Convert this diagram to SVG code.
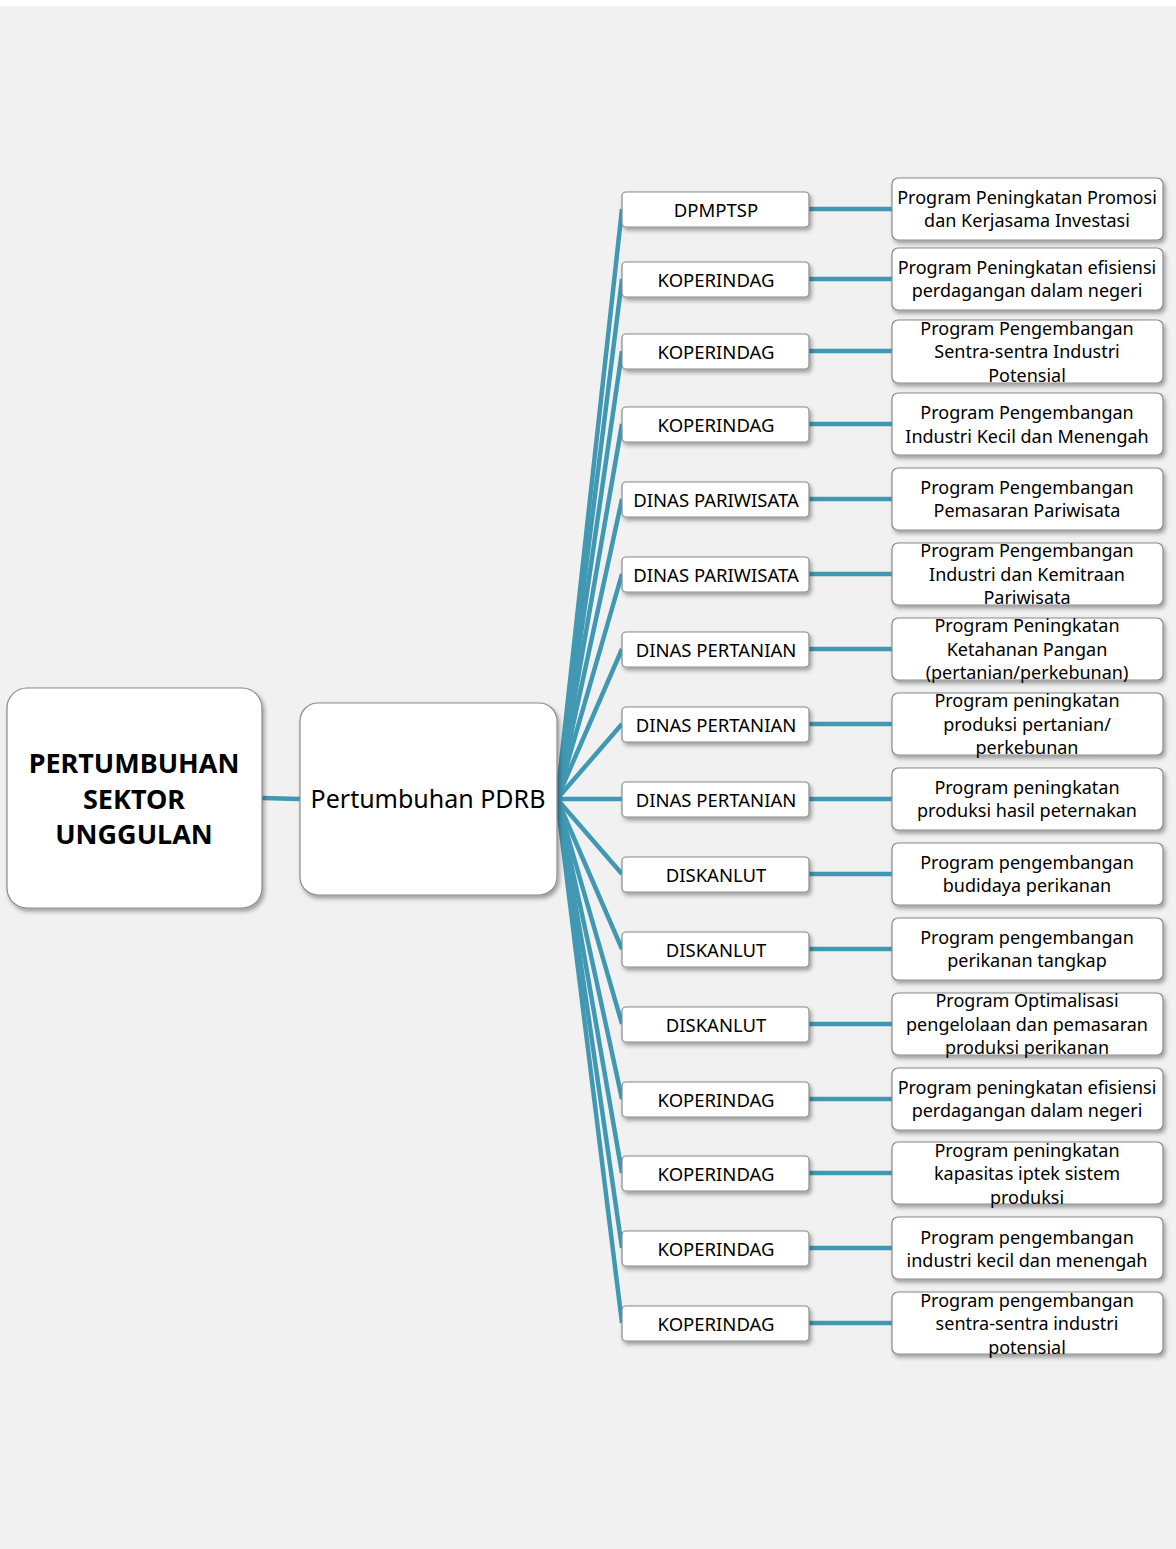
<svg xmlns="http://www.w3.org/2000/svg" width="1176" height="1549" viewBox="0 0 1176 1549">
<defs>
<filter id="sh" x="-10%" y="-20%" width="130%" height="150%">
<feDropShadow dx="2" dy="3" stdDeviation="2" flood-color="#000" flood-opacity="0.35"/>
</filter>
<style>
.box{fill:#fff;stroke:#8a8a8a;stroke-width:1.2;filter:url(#sh)}
.t{font-family:"Noto Sans","Open Sans","DejaVu Sans",sans-serif;fill:#000;text-anchor:middle;dominant-baseline:central}
.s{font-size:18px}
.m{font-size:18.5px}
.c{stroke:#4198b3;stroke-width:4.5;fill:none}
</style>
</defs>
<rect x="0" y="0" width="1176" height="1549" fill="#ffffff"/>
<rect x="0" y="6" width="1176" height="1543" fill="#f1f1f1"/>
<g id="connectors">
<line class="c" x1="262" y1="798" x2="300" y2="799"/>
<line class="c" x1="557" y1="799" x2="622" y2="209"/>
<line class="c" x1="557" y1="799" x2="622" y2="279"/>
<line class="c" x1="557" y1="799" x2="622" y2="351"/>
<line class="c" x1="557" y1="799" x2="622" y2="424"/>
<line class="c" x1="557" y1="799" x2="622" y2="499"/>
<line class="c" x1="557" y1="799" x2="622" y2="574"/>
<line class="c" x1="557" y1="799" x2="622" y2="649"/>
<line class="c" x1="557" y1="799" x2="622" y2="724"/>
<line class="c" x1="557" y1="799" x2="622" y2="799"/>
<line class="c" x1="557" y1="799" x2="622" y2="874"/>
<line class="c" x1="557" y1="799" x2="622" y2="949"/>
<line class="c" x1="557" y1="799" x2="622" y2="1024"/>
<line class="c" x1="557" y1="799" x2="622" y2="1099"/>
<line class="c" x1="557" y1="799" x2="622" y2="1173"/>
<line class="c" x1="557" y1="799" x2="622" y2="1248"/>
<line class="c" x1="557" y1="799" x2="622" y2="1323"/>
<line class="c" x1="809" y1="209" x2="892" y2="209"/>
<line class="c" x1="809" y1="279" x2="892" y2="279"/>
<line class="c" x1="809" y1="351" x2="892" y2="351"/>
<line class="c" x1="809" y1="424" x2="892" y2="424"/>
<line class="c" x1="809" y1="499" x2="892" y2="499"/>
<line class="c" x1="809" y1="574" x2="892" y2="574"/>
<line class="c" x1="809" y1="649" x2="892" y2="649"/>
<line class="c" x1="809" y1="724" x2="892" y2="724"/>
<line class="c" x1="809" y1="799" x2="892" y2="799"/>
<line class="c" x1="809" y1="874" x2="892" y2="874"/>
<line class="c" x1="809" y1="949" x2="892" y2="949"/>
<line class="c" x1="809" y1="1024" x2="892" y2="1024"/>
<line class="c" x1="809" y1="1099" x2="892" y2="1099"/>
<line class="c" x1="809" y1="1173" x2="892" y2="1173"/>
<line class="c" x1="809" y1="1248" x2="892" y2="1248"/>
<line class="c" x1="809" y1="1323" x2="892" y2="1323"/>
</g>
<g id="root">
<rect class="box" x="7" y="688" width="255" height="220" rx="20"/>
<text class="t" x="134" font-size="27" font-weight="bold"><tspan x="134" y="762">PERTUMBUHAN</tspan><tspan x="134" y="798">SEKTOR</tspan><tspan x="134" y="833">UNGGULAN</tspan></text>
</g>
<g id="pdrb">
<rect class="box" x="300" y="703" width="257" height="192" rx="18"/>
<text class="t" x="428" y="798" font-size="25">Pertumbuhan PDRB</text>
</g>
<g id="m1"><rect class="box" x="622" y="192" width="187" height="35" rx="4"/><text class="t m" x="716" y="209">DPMPTSP</text></g>
<g id="m2"><rect class="box" x="622" y="262" width="187" height="35" rx="4"/><text class="t m" x="716" y="279">KOPERINDAG</text></g>
<g id="m3"><rect class="box" x="622" y="334" width="187" height="35" rx="4"/><text class="t m" x="716" y="351">KOPERINDAG</text></g>
<g id="m4"><rect class="box" x="622" y="407" width="187" height="35" rx="4"/><text class="t m" x="716" y="424">KOPERINDAG</text></g>
<g id="m5"><rect class="box" x="622" y="482" width="187" height="35" rx="4"/><text class="t m" x="716" y="499">DINAS PARIWISATA</text></g>
<g id="m6"><rect class="box" x="622" y="557" width="187" height="35" rx="4"/><text class="t m" x="716" y="574">DINAS PARIWISATA</text></g>
<g id="m7"><rect class="box" x="622" y="632" width="187" height="35" rx="4"/><text class="t m" x="716" y="649">DINAS PERTANIAN</text></g>
<g id="m8"><rect class="box" x="622" y="707" width="187" height="35" rx="4"/><text class="t m" x="716" y="724">DINAS PERTANIAN</text></g>
<g id="m9"><rect class="box" x="622" y="782" width="187" height="35" rx="4"/><text class="t m" x="716" y="799">DINAS PERTANIAN</text></g>
<g id="m10"><rect class="box" x="622" y="857" width="187" height="35" rx="4"/><text class="t m" x="716" y="874">DISKANLUT</text></g>
<g id="m11"><rect class="box" x="622" y="932" width="187" height="35" rx="4"/><text class="t m" x="716" y="949">DISKANLUT</text></g>
<g id="m12"><rect class="box" x="622" y="1007" width="187" height="35" rx="4"/><text class="t m" x="716" y="1024">DISKANLUT</text></g>
<g id="m13"><rect class="box" x="622" y="1082" width="187" height="35" rx="4"/><text class="t m" x="716" y="1099">KOPERINDAG</text></g>
<g id="m14"><rect class="box" x="622" y="1156" width="187" height="35" rx="4"/><text class="t m" x="716" y="1173">KOPERINDAG</text></g>
<g id="m15"><rect class="box" x="622" y="1231" width="187" height="35" rx="4"/><text class="t m" x="716" y="1248">KOPERINDAG</text></g>
<g id="m16"><rect class="box" x="622" y="1306" width="187" height="35" rx="4"/><text class="t m" x="716" y="1323">KOPERINDAG</text></g>
<g id="r1"><rect class="box" x="892" y="178" width="271" height="62" rx="6"/><text class="t s"><tspan x="1027" y="197">Program Peningkatan Promosi</tspan><tspan x="1027" y="220">dan Kerjasama Investasi</tspan></text></g>
<g id="r2"><rect class="box" x="892" y="248" width="271" height="62" rx="6"/><text class="t s"><tspan x="1027" y="267">Program Peningkatan efisiensi</tspan><tspan x="1027" y="290">perdagangan dalam negeri</tspan></text></g>
<g id="r3"><rect class="box" x="892" y="320" width="271" height="63" rx="6"/><text class="t s"><tspan x="1027" y="328">Program Pengembangan</tspan><tspan x="1027" y="351">Sentra-sentra Industri</tspan><tspan x="1027" y="375">Potensial</tspan></text></g>
<g id="r4"><rect class="box" x="892" y="393" width="271" height="62" rx="6"/><text class="t s"><tspan x="1027" y="412">Program Pengembangan</tspan><tspan x="1027" y="436">Industri Kecil dan Menengah</tspan></text></g>
<g id="r5"><rect class="box" x="892" y="468" width="271" height="62" rx="6"/><text class="t s"><tspan x="1027" y="487">Program Pengembangan</tspan><tspan x="1027" y="510">Pemasaran Pariwisata</tspan></text></g>
<g id="r6"><rect class="box" x="892" y="543" width="271" height="62" rx="6"/><text class="t s"><tspan x="1027" y="550">Program Pengembangan</tspan><tspan x="1027" y="574">Industri dan Kemitraan</tspan><tspan x="1027" y="597">Pariwisata</tspan></text></g>
<g id="r7"><rect class="box" x="892" y="618" width="271" height="62" rx="6"/><text class="t s"><tspan x="1027" y="625">Program Peningkatan</tspan><tspan x="1027" y="649">Ketahanan Pangan</tspan><tspan x="1027" y="672">(pertanian/perkebunan)</tspan></text></g>
<g id="r8"><rect class="box" x="892" y="693" width="271" height="62" rx="6"/><text class="t s"><tspan x="1027" y="700">Program peningkatan</tspan><tspan x="1027" y="724">produksi pertanian/</tspan><tspan x="1027" y="747">perkebunan</tspan></text></g>
<g id="r9"><rect class="box" x="892" y="768" width="271" height="62" rx="6"/><text class="t s"><tspan x="1027" y="787">Program peningkatan</tspan><tspan x="1027" y="810">produksi hasil peternakan</tspan></text></g>
<g id="r10"><rect class="box" x="892" y="843" width="271" height="62" rx="6"/><text class="t s"><tspan x="1027" y="862">Program pengembangan</tspan><tspan x="1027" y="885">budidaya perikanan</tspan></text></g>
<g id="r11"><rect class="box" x="892" y="918" width="271" height="62" rx="6"/><text class="t s"><tspan x="1027" y="937">Program pengembangan</tspan><tspan x="1027" y="960">perikanan tangkap</tspan></text></g>
<g id="r12"><rect class="box" x="892" y="993" width="271" height="62" rx="6"/><text class="t s"><tspan x="1027" y="1000">Program Optimalisasi</tspan><tspan x="1027" y="1024">pengelolaan dan pemasaran</tspan><tspan x="1027" y="1047">produksi perikanan</tspan></text></g>
<g id="r13"><rect class="box" x="892" y="1068" width="271" height="62" rx="6"/><text class="t s"><tspan x="1027" y="1087">Program peningkatan efisiensi</tspan><tspan x="1027" y="1110">perdagangan dalam negeri</tspan></text></g>
<g id="r14"><rect class="box" x="892" y="1142" width="271" height="62" rx="6"/><text class="t s"><tspan x="1027" y="1150">Program peningkatan</tspan><tspan x="1027" y="1173">kapasitas iptek sistem</tspan><tspan x="1027" y="1197">produksi</tspan></text></g>
<g id="r15"><rect class="box" x="892" y="1217" width="271" height="62" rx="6"/><text class="t s"><tspan x="1027" y="1237">Program pengembangan</tspan><tspan x="1027" y="1260">industri kecil dan menengah</tspan></text></g>
<g id="r16"><rect class="box" x="892" y="1292" width="271" height="62" rx="6"/><text class="t s"><tspan x="1027" y="1300">Program pengembangan</tspan><tspan x="1027" y="1323">sentra-sentra industri</tspan><tspan x="1027" y="1347">potensial</tspan></text></g>
</svg>
